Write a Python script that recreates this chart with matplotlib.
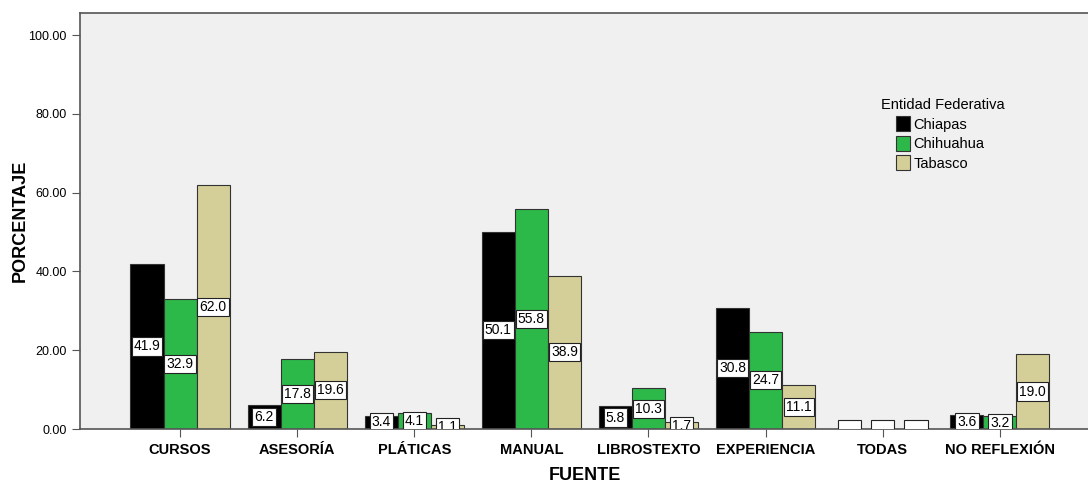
import matplotlib

matplotlib.use("Agg")
import matplotlib.pyplot as plt
import numpy as np

plt.rcParams["font.family"] = ["Liberation Sans", "DejaVu Sans"]

categories = ["CURSOS", "ASESORÍA", "PLÁTICAS", "MANUAL", "LIBROSTEXTO",
              "EXPERIENCIA", "TODAS", "NO REFLEXIÓN"]
chiapas = [41.9, 6.2, 3.4, 50.1, 5.8, 30.8, 0.0, 3.6]
chihuahua = [32.9, 17.8, 4.1, 55.8, 10.3, 24.7, 0.0, 3.2]
tabasco = [62.0, 19.6, 1.1, 38.9, 1.7, 11.1, 0.0, 19.0]
series = [("Chiapas", chiapas, "#000000"),
          ("Chihuahua", chihuahua, "#2DB84A"),
          ("Tabasco", tabasco, "#D4CF98")]

fig = plt.figure(figsize=(10.88, 4.82), dpi=100)
ax = fig.add_axes([80 / 1088, 1 - 429 / 482, 1010 / 1088, (429 - 13) / 482])
ax.set_facecolor("#F0F0F0")

x = np.arange(len(categories))
width = 0.282
for i, (name, vals, color) in enumerate(series):
    pos = x + (i - 1) * width
    ax.bar(pos, vals, width, color=color, edgecolor="#333333",
           linewidth=0.8, label=name, zorder=2)
    for xp, v in zip(pos, vals):
        txt = f"{v:.1f}" if v > 0 else "     "
        ax.text(xp, v / 2, txt, ha="center", va="center", fontsize=10,
                zorder=3, clip_on=True,
                bbox=dict(boxstyle="square,pad=0.15", fc="white",
                          ec="#222222", lw=0.8))

ax.set_xlim(-0.854, 7.77)
ax.set_ylim(0, 105.6)
ax.set_xticks(x)
ax.set_xticklabels(categories, fontsize=10.5, fontweight="bold")
ax.set_yticks([0, 20, 40, 60, 80, 100])
ax.set_yticklabels([f"{v:.2f}" for v in [0, 20, 40, 60, 80, 100]], fontsize=9)
ax.tick_params(axis="both", direction="out", length=6, color="#555555")
ax.tick_params(axis="x", pad=4)
for s in ax.spines.values():
    s.set_color("#555555")
    s.set_linewidth(1.2)
ax.spines["right"].set_visible(False)

ax.set_xlabel("FUENTE", fontsize=13, fontweight="bold", labelpad=7)
ax.set_ylabel("PORCENTAJE", fontsize=13, fontweight="bold", labelpad=0)

leg = ax.legend(frameon=False, fontsize=10.5, loc="upper left",
                bbox_to_anchor=(0.808, 0.752), handlelength=0.95,
                handleheight=1.2, handletextpad=0.25, labelspacing=0.28,
                borderaxespad=0, borderpad=0)
for h in leg.legend_handles:
    h.set_edgecolor("#333333")
ax.text(0.793, 0.78, "Entidad Federativa", transform=ax.transAxes,
        fontsize=10.5, ha="left", va="center")

fig.savefig("out.png", dpi=100)
